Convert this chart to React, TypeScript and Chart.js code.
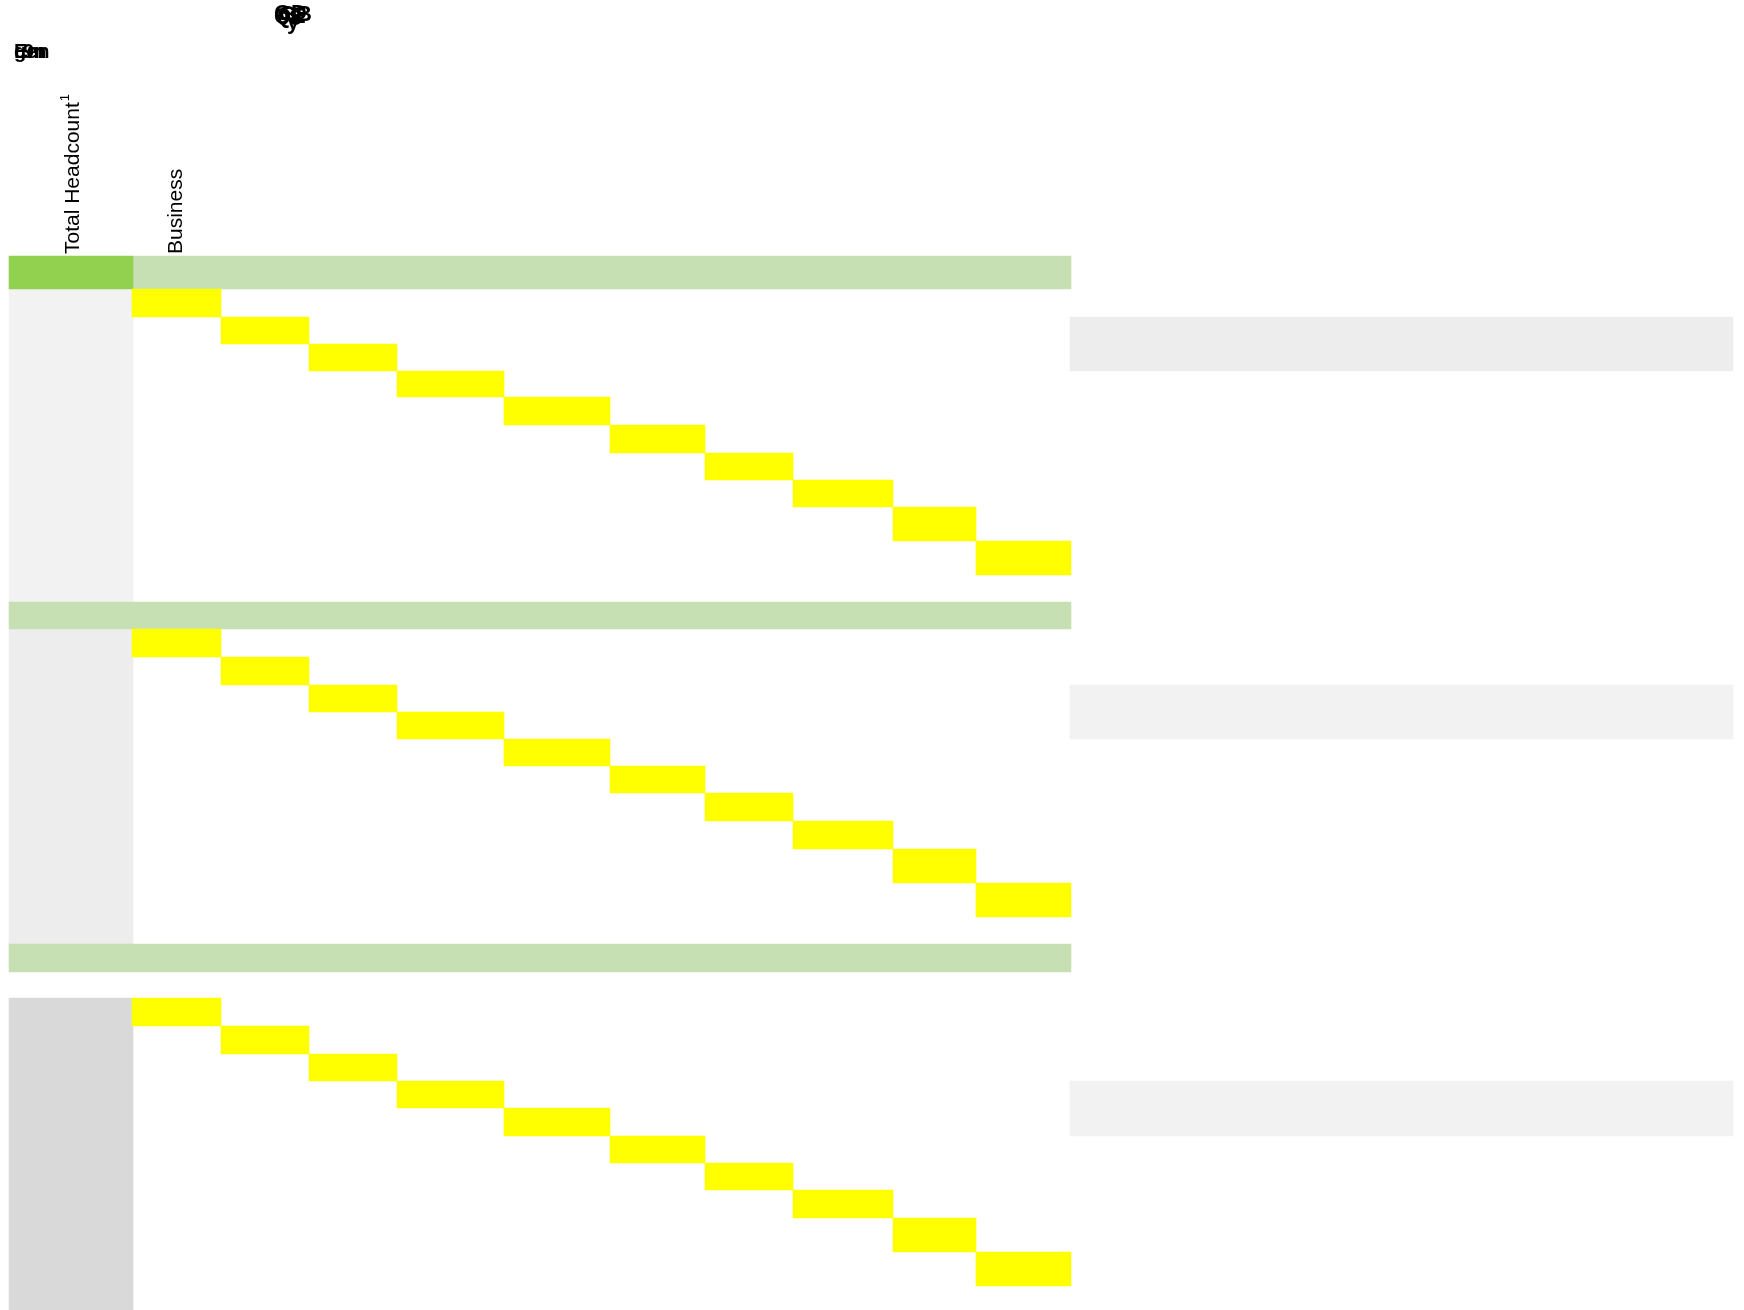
import React, { useEffect, useRef } from "react";
import { Chart, registerables } from "chart.js";

Chart.register(...registerables);

const W = 1744;
const H = 1310;

// x-boundaries of the ten diagonal step columns (shared by the three blocks)
const stepEdges = [132, 221, 309, 397, 504, 610, 705, 793, 893, 976, 1071];
// row boundaries of the ten steps in each block
const block1Rows = [289, 317, 344, 371, 397, 425, 453, 480, 507, 541, 575];
const block2Rows = [629, 657, 685, 712, 739, 766, 793, 821, 849, 883, 917];
const block3Rows = [998, 1026, 1054, 1081, 1108, 1136, 1163, 1190, 1218, 1252, 1286];

// green header bands of each block
const bandStartX = [133, 9, 9];
const bandEndX = [1071, 1071, 1071];
const bandTop = [256, 602, 944];
const bandBottom = [289, 629, 972];
const headerCellX = [9, 133];

// left grey label column of each block
const labelColX = [9, 133];
const labelColTop = [289, 629, 998];
const labelColBottom = [602, 944, 1310];
const labelColColors = ["#f2f2f2", "#ededed", "#d9d9d9"];

// right grey comment panels
const panelX = [1070, 1733];
const panelTop = [317, 685, 1081];
const panelBottom = [371, 739, 1136];
const panelColors = ["#ededed", "#f2f2f2", "#f2f2f2"];

// text
const columnHeaders = ["Total Headcount", "Business"];
const columnNotes = ["1", ""];
const columnBaselineX = [79, 182];
const columnStartY = 254;
const overlapTopLabels = ["GB", "08", "QE", "GD", "y"];
const overlapTopX = [279, 277, 274, 274, 287];
const overlapTopY = [21, 25, 23, 20, 29];
const overlapLeftLabels = ["gen", "Em", "9n"];
const overlapLeftX = [14, 14, 23];
const overlapLeftY = [58, 58, 58];

const YELLOW = "#ffff00";
const LIGHT_GREEN = "#c6e0b4";
const DARK_GREEN = "#92d050";

function rect(label: string, x0: number, x1: number, y0: number, y1: number, color: string) {
  return {
    label,
    data: [{ x: [x0, x1], y: (y0 + y1) / 2 }],
    backgroundColor: color,
    borderWidth: 0,
    barThickness: y1 - y0,
    grouped: false,
    borderSkipped: false,
    inflateAmount: 0.3,
  };
}

function buildDatasets() {
  const ds: any[] = [];
  const blocks = [block1Rows, block2Rows, block3Rows];
  blocks.forEach((rows, b) => {
    for (let i = 0; i < stepEdges.length - 1; i++) {
      ds.push(rect(`Block ${b + 1} step ${i + 1}`, stepEdges[i], stepEdges[i + 1], rows[i], rows[i + 1], YELLOW));
    }
  });
  ds.push(rect("Header total", headerCellX[0], headerCellX[1], bandTop[0], bandBottom[0], DARK_GREEN));
  bandTop.forEach((t, i) => {
    ds.push(rect(`Band ${i + 1}`, bandStartX[i], bandEndX[i], t, bandBottom[i], LIGHT_GREEN));
  });
  labelColTop.forEach((t, i) => {
    ds.push(rect(`Label column ${i + 1}`, labelColX[0], labelColX[1], t, labelColBottom[i], labelColColors[i]));
  });
  panelTop.forEach((t, i) => {
    ds.push(rect(`Panel ${i + 1}`, panelX[0], panelX[1], t, panelBottom[i], panelColors[i]));
  });
  return ds;
}

const FONT = '"Liberation Sans", Arial, sans-serif';

const textPlugin = {
  id: "tableText",
  afterDatasetsDraw(chart: any) {
    const { ctx, scales } = chart;
    const xs = scales.x;
    const ys = scales.y;
    ctx.save();
    ctx.fillStyle = "#000000";
    ctx.textAlign = "left";
    ctx.textBaseline = "alphabetic";
    columnHeaders.forEach((lab, i) => {
      const px = xs.getPixelForValue(columnBaselineX[i]);
      const py = ys.getPixelForValue(columnStartY);
      ctx.save();
      ctx.translate(px, py);
      ctx.rotate(-Math.PI / 2);
      ctx.font = `21px ${FONT}`;
      ctx.fillText(lab, 0, 0);
      if (columnNotes[i]) {
        const w = ctx.measureText(lab).width;
        ctx.font = `13px ${FONT}`;
        ctx.fillText(columnNotes[i], w + 1, -10);
      }
      ctx.restore();
    });
    ctx.font = `bold 22px ${FONT}`;
    overlapTopLabels.forEach((lab, i) => {
      ctx.fillText(lab, xs.getPixelForValue(overlapTopX[i]), ys.getPixelForValue(overlapTopY[i]));
    });
    ctx.font = `bold 20px ${FONT}`;
    overlapLeftLabels.forEach((lab, i) => {
      ctx.fillText(lab, xs.getPixelForValue(overlapLeftX[i]), ys.getPixelForValue(overlapLeftY[i]));
    });
    ctx.restore();
  },
};

export default function App() {
  const ref = useRef<HTMLCanvasElement | null>(null);
  useEffect(() => {
    if (!ref.current) return;
    const chart = new Chart(ref.current, {
      type: "bar",
      data: { datasets: buildDatasets() },
      options: {
        indexAxis: "y",
        animation: false,
        responsive: false,
        events: [],
        layout: { padding: 0 },
        plugins: {
          legend: { display: false },
          tooltip: { enabled: false },
          title: { display: false },
        },
        scales: {
          x: { type: "linear", min: 0, max: W, display: false, offset: false },
          y: { type: "linear", min: 0, max: H, reverse: true, display: false, offset: false },
        },
      } as any,
      plugins: [textPlugin],
    });
    return () => chart.destroy();
  }, []);
  return (
    <div style={{ position: "fixed", left: 0, top: 0, width: W, height: H, background: "#ffffff" }}>
      <canvas ref={ref} width={W} height={H} style={{ display: "block", width: W, height: H }} />
    </div>
  );
}
